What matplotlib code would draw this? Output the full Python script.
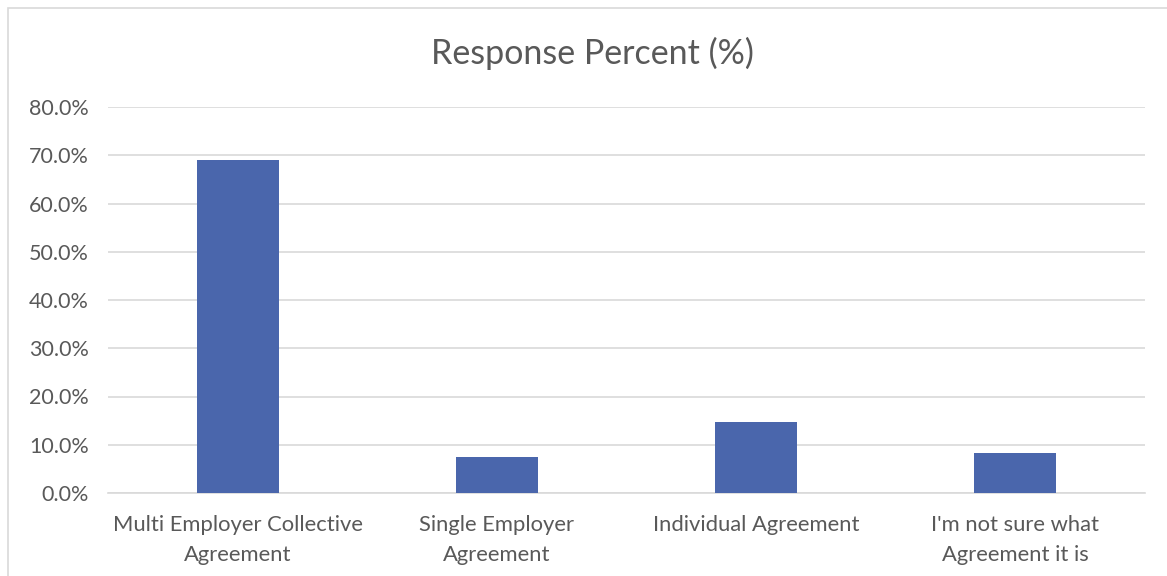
import matplotlib
matplotlib.use('Agg')
import matplotlib.pyplot as plt
from matplotlib.patches import Rectangle

# Chart values
categories = ['Multi Employer Collective\nAgreement', 'Single Employer\nAgreement',
              'Individual Agreement', "I'm not sure what\nAgreement it is"]
response_pct = [69.1, 7.4, 14.8, 8.3]
y_ticks = [0, 10, 20, 30, 40, 50, 60, 70, 80]
y_tick_labels = ['%.1f%%' % t for t in y_ticks]

plt.rcParams['font.family'] = ['Lato', 'DejaVu Sans']

fig = plt.figure(figsize=(11.67, 5.76), dpi=100)
ax = fig.add_axes([108 / 1167, 83 / 576, 1037 / 1167, 386 / 576])

ax.bar(range(len(categories)), response_pct, width=0.316, color='#4A66AC', zorder=3)

ax.set_xlim(-0.5, len(categories) - 0.5)
ax.set_ylim(0, 80)
ax.set_yticks(y_ticks)
ax.set_yticklabels(y_tick_labels, fontsize=15.5)
ax.set_xticks(range(len(categories)))
ax.set_xticklabels(categories, linespacing=1.6, fontsize=15.8)

ax.grid(axis='y', color='#D9D9D9', linewidth=1.2, zorder=0)
for s in ['top', 'right', 'left']:
    ax.spines[s].set_visible(False)
ax.spines['bottom'].set_color('#D9D9D9')
ax.spines['bottom'].set_linewidth(1.2)
ax.tick_params(axis='both', length=0, colors='#595959')
ax.tick_params(axis='x', pad=16)
ax.tick_params(axis='y', pad=14)

fig.text(592 / 1167, (576 - 53) / 576, 'Response Percent (%)',
         ha='center', va='center', fontsize=24.5, color='#595959')

# light chart-area border (cropped at right and bottom in the reference)
fig.patches.append(Rectangle((8 / 1167, -0.1), 1.2, (576 - 8) / 576 + 0.1,
                             transform=fig.transFigure, fill=False,
                             edgecolor='#D9D9D9', linewidth=1.2))

fig.savefig('out.png', dpi=100)
